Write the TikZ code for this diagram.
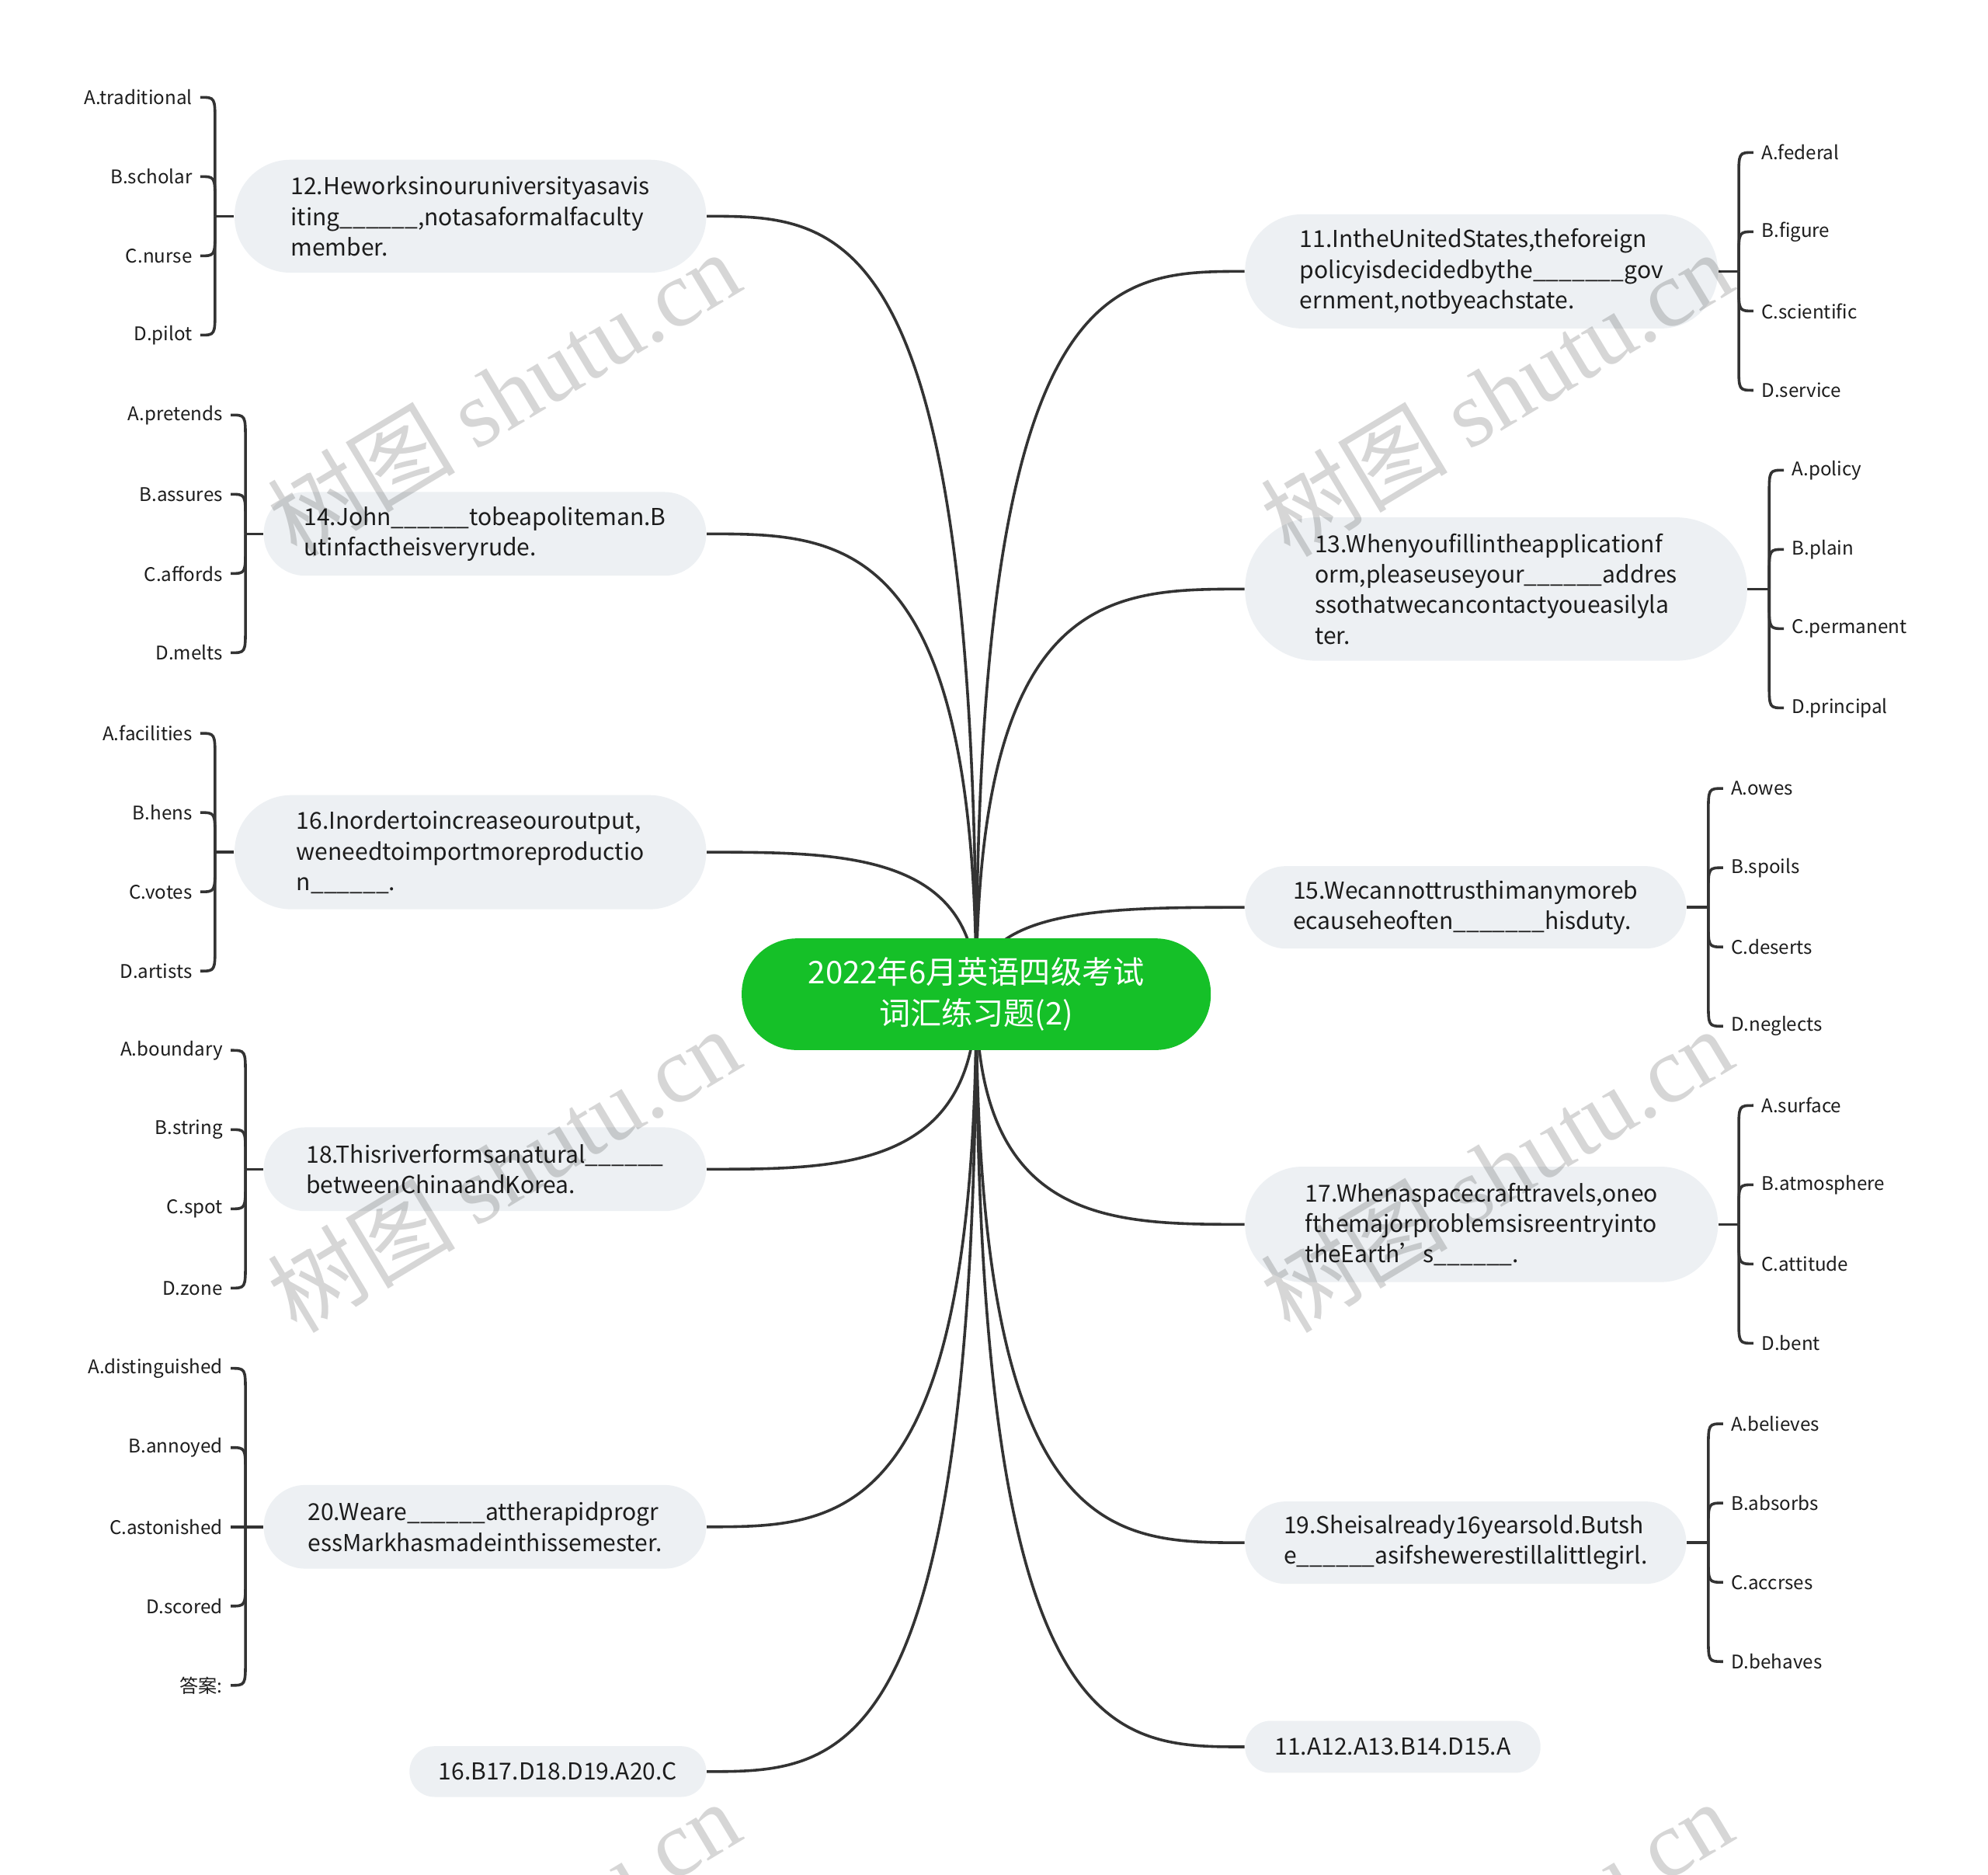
\documentclass[tikz,border=0pt]{standalone}
\usepackage{fontspec}
\setmainfont{Noto Sans CJK SC}
\newfontfamily\wmserif{Liberation Serif}
\usetikzlibrary{calc}
\definecolor{rootgreen}{RGB}{21,192,40}
\definecolor{boxfill}{RGB}{237,240,243}
\definecolor{ink}{RGB}{28,28,28}
\definecolor{linec}{RGB}{51,51,51}
\definecolor{wmgray}{RGB}{214,214,214}
\pgfdeclarelayer{bg}
\pgfdeclarelayer{lines}
\pgfsetlayers{bg,lines,main}
\newcommand\qfont{\fontsize{9.2}{12}\selectfont}
\newcommand\leaffont{\fontsize{7.4}{9}\selectfont}
\newcommand\rootfont{\fontsize{12.3}{16}\selectfont}
\newcommand\mlink[1]{\draw[conn] (root.center) .. controls (root.center |- #1) and ($(root.center |- #1)!0.5!(#1)$) .. (#1);}
\newcommand\leafL[3]{\draw[conn] (#1) -- ($(#1 |- #2.east)+(0,#3)$) .. controls (#1 |- #2.east) .. (#2.east);}
\newcommand\leafR[3]{\draw[conn] (#1) -- ($(#1 |- #2.west)+(0,#3)$) .. controls (#1 |- #2.west) .. (#2.west);}
\tikzset{
  conn/.style={draw=linec, line width=1.1pt},
  qbox/.style={fill=boxfill, text=ink, font=\qfont, align=left, inner sep=0pt},
  rootbox/.style={fill=rootgreen, text=white, font=\rootfont, align=center, inner sep=0pt,
    minimum width=185pt, minimum height=44pt, rounded corners=21.8pt},
  leafL/.style={anchor=east, inner xsep=3pt, inner ysep=1pt, font=\leaffont, text=ink},
  leafR/.style={anchor=west, inner xsep=3pt, inner ysep=1pt, font=\leaffont, text=ink},
  wm/.style={text=wmgray, inner sep=0pt, font=\fontsize{37}{40}\selectfont}
}
\begin{document}
\begin{tikzpicture}[x=0.5pt,y=-0.5pt]
\begin{pgfonlayer}{bg}
\fill[white] (0,0) rectangle (1568,1478.5);
\end{pgfonlayer}
\useasboundingbox (0,0) rectangle (1568,1478.5);

% root
\node[rootbox] (root) at (770,784) {2022年6月英语四级考试\\词汇练习题(2)};

% left questions
\node[qbox, minimum width=186pt, minimum height=44.5pt, rounded corners=22pt] (q12) at (371,170.5)
  {12.Heworksinouruniversityasavis\\iting\_\_\_\_\_\_,notasaformalfaculty\\member.};
\node[qbox, minimum width=174.5pt, minimum height=33pt, rounded corners=16.4pt] (q14) at (382.5,421)
  {14.John\_\_\_\_\_\_tobeapoliteman.B\\utinfactheisveryrude.};
\node[qbox, minimum width=186pt, minimum height=45pt, rounded corners=22.4pt] (q16) at (371,672)
  {16.Inordertoincreaseouroutput,\\weneedtoimportmoreproductio\\n\_\_\_\_\_\_.};
\node[qbox, minimum width=174.5pt, minimum height=33pt, rounded corners=16.4pt] (q18) at (382.5,922)
  {18.Thisriverformsanatural\_\_\_\_\_\_\\betweenChinaandKorea.};
\node[qbox, minimum width=174.5pt, minimum height=33pt, rounded corners=16.4pt] (q20) at (382.5,1204)
  {20.Weare\_\_\_\_\_\_attherapidprogr\\essMarkhasmadeinthissemester.};
\node[qbox, minimum width=117pt, minimum height=20pt, rounded corners=9.9pt] (a2) at (440,1397)
  {16.B17.D18.D19.A20.C};

% right questions
\node[qbox, minimum width=186.5pt, minimum height=45pt, rounded corners=22.4pt] (q11) at (1168.5,214)
  {11.IntheUnitedStates,theforeign\\policyisdecidedbythe\_\_\_\_\_\_\_gov\\ernment,notbyeachstate.};
\node[qbox, minimum width=198pt, minimum height=56.5pt, rounded corners=28pt] (q13) at (1180,464.5)
  {13.Whenyoufillintheapplicationf\\orm,pleaseuseyour\_\_\_\_\_\_addres\\ssothatwecancontactyoueasilyla\\ter.};
\node[qbox, minimum width=174pt, minimum height=32.5pt, rounded corners=16.1pt] (q15) at (1156,715.5)
  {15.Wecannottrusthimanymoreb\\ecauseheoften\_\_\_\_\_\_\_hisduty.};
\node[qbox, minimum width=186.5pt, minimum height=45.5pt, rounded corners=22.6pt] (q17) at (1168.5,965.5)
  {17.Whenaspacecrafttravels,oneo\\fthemajorproblemsisreentryinto\\theEarth’s\_\_\_\_\_\_.};
\node[qbox, minimum width=174pt, minimum height=32.5pt, rounded corners=16.1pt] (q19) at (1156,1216.5)
  {19.Sheisalready16yearsold.Butsh\\e\_\_\_\_\_\_asifshewerestillalittlegirl.};
\node[qbox, minimum width=116.5pt, minimum height=20.5pt, rounded corners=10.1pt] (a1) at (1098.5,1377.5)
  {11.A12.A13.B14.D15.A};

% leaves left
\node[leafL] (l12a) at (158,76.75) {A.traditional};
\node[leafL] (l12b) at (158,139.25) {B.scholar};
\node[leafL] (l12c) at (158,201.75) {C.nurse};
\node[leafL] (l12d) at (158,264.25) {D.pilot};
\node[leafL] (l14a) at (182,327.25) {A.pretends};
\node[leafL] (l14b) at (182,389.75) {B.assures};
\node[leafL] (l14c) at (182,452.25) {C.affords};
\node[leafL] (l14d) at (182,514.75) {D.melts};
\node[leafL] (l16a) at (158,578.25) {A.facilities};
\node[leafL] (l16b) at (158,640.75) {B.hens};
\node[leafL] (l16c) at (158,703.25) {C.votes};
\node[leafL] (l16d) at (158,765.75) {D.artists};
\node[leafL] (l18a) at (182,828.25) {A.boundary};
\node[leafL] (l18b) at (182,890.75) {B.string};
\node[leafL] (l18c) at (182,953.25) {C.spot};
\node[leafL] (l18d) at (182,1015.75) {D.zone};
\node[leafL] (l20a) at (182,1079) {A.distinguished};
\node[leafL] (l20b) at (182,1141.5) {B.annoyed};
\node[leafL] (l20c) at (182,1204) {C.astonished};
\node[leafL] (l20d) at (182,1266.5) {D.scored};
\node[leafL] (l20e) at (182,1329) {答案:};

% leaves right
\node[leafR] (l11a) at (1383,120.25) {A.federal};
\node[leafR] (l11b) at (1383,182.75) {B.figure};
\node[leafR] (l11c) at (1383,245.25) {C.scientific};
\node[leafR] (l11d) at (1383,307.75) {D.service};
\node[leafR] (l13a) at (1407,370.75) {A.policy};
\node[leafR] (l13b) at (1407,433.25) {B.plain};
\node[leafR] (l13c) at (1407,495.75) {C.permanent};
\node[leafR] (l13d) at (1407,558.25) {D.principal};
\node[leafR] (l15a) at (1359,621.75) {A.owes};
\node[leafR] (l15b) at (1359,684.25) {B.spoils};
\node[leafR] (l15c) at (1359,746.75) {C.deserts};
\node[leafR] (l15d) at (1359,809.25) {D.neglects};
\node[leafR] (l17a) at (1383,871.75) {A.surface};
\node[leafR] (l17b) at (1383,934.25) {B.atmosphere};
\node[leafR] (l17c) at (1383,996.75) {C.attitude};
\node[leafR] (l17d) at (1383,1059.25) {D.bent};
\node[leafR] (l19a) at (1359,1122.75) {A.believes};
\node[leafR] (l19b) at (1359,1185.25) {B.absorbs};
\node[leafR] (l19c) at (1359,1247.75) {C.accrses};
\node[leafR] (l19d) at (1359,1310.25) {D.behaves};

% junctions
\coordinate (j12) at ($(q12.west)+(-15,0)$);
\coordinate (j14) at ($(q14.west)+(-14,0)$);
\coordinate (j16) at ($(q16.west)+(-15,0)$);
\coordinate (j18) at ($(q18.west)+(-14,0)$);
\coordinate (j20) at ($(q20.west)+(-14,0)$);
\coordinate (j11) at ($(q11.east)+(16,0)$);
\coordinate (j13) at ($(q13.east)+(17,0)$);
\coordinate (j15) at ($(q15.east)+(17,0)$);
\coordinate (j17) at ($(q17.east)+(16,0)$);
\coordinate (j19) at ($(q19.east)+(17,0)$);

\begin{pgfonlayer}{lines}
\mlink{q12.east}
\mlink{q14.east}
\mlink{q16.east}
\mlink{q18.east}
\mlink{q20.east}
\mlink{a2.east}
\mlink{q11.west}
\mlink{q13.west}
\mlink{q15.west}
\mlink{q17.west}
\mlink{q19.west}
\mlink{a1.west}

\draw[conn] (q12.west) -- (j12);
\leafL{j12}{l12a}{20}\leafL{j12}{l12b}{20}\leafL{j12}{l12c}{-20}\leafL{j12}{l12d}{-20}
\draw[conn] (q14.west) -- (j14);
\leafL{j14}{l14a}{20}\leafL{j14}{l14b}{20}\leafL{j14}{l14c}{-20}\leafL{j14}{l14d}{-20}
\draw[conn] (q16.west) -- (j16);
\leafL{j16}{l16a}{20}\leafL{j16}{l16b}{20}\leafL{j16}{l16c}{-20}\leafL{j16}{l16d}{-20}
\draw[conn] (q18.west) -- (j18);
\leafL{j18}{l18a}{20}\leafL{j18}{l18b}{20}\leafL{j18}{l18c}{-20}\leafL{j18}{l18d}{-20}
\draw[conn] (q20.west) -- (l20c.east);
\leafL{j20}{l20a}{20}\leafL{j20}{l20b}{20}\leafL{j20}{l20d}{-20}\leafL{j20}{l20e}{-20}

\draw[conn] (q11.east) -- (j11);
\leafR{j11}{l11a}{20}\leafR{j11}{l11b}{20}\leafR{j11}{l11c}{-20}\leafR{j11}{l11d}{-20}
\draw[conn] (q13.east) -- (j13);
\leafR{j13}{l13a}{20}\leafR{j13}{l13b}{20}\leafR{j13}{l13c}{-20}\leafR{j13}{l13d}{-20}
\draw[conn] (q15.east) -- (j15);
\leafR{j15}{l15a}{20}\leafR{j15}{l15b}{20}\leafR{j15}{l15c}{-20}\leafR{j15}{l15d}{-20}
\draw[conn] (q17.east) -- (j17);
\leafR{j17}{l17a}{20}\leafR{j17}{l17b}{20}\leafR{j17}{l17c}{-20}\leafR{j17}{l17d}{-20}
\draw[conn] (q19.east) -- (j19);
\leafR{j19}{l19a}{20}\leafR{j19}{l19b}{20}\leafR{j19}{l19c}{-20}\leafR{j19}{l19d}{-20}
\end{pgfonlayer}

% watermarks
\begin{scope}[blend mode=multiply]
\foreach \wx/\wy [count=\i] in {397/310, 1180/310, 397/922, 1180/922, 397/1532, 1180/1532}
  \node[wm, rotate=31] (wm\i) at (\wx,\wy) {树图 {\wmserif shutu.cn}};
\end{scope}
\end{tikzpicture}
\end{document}
